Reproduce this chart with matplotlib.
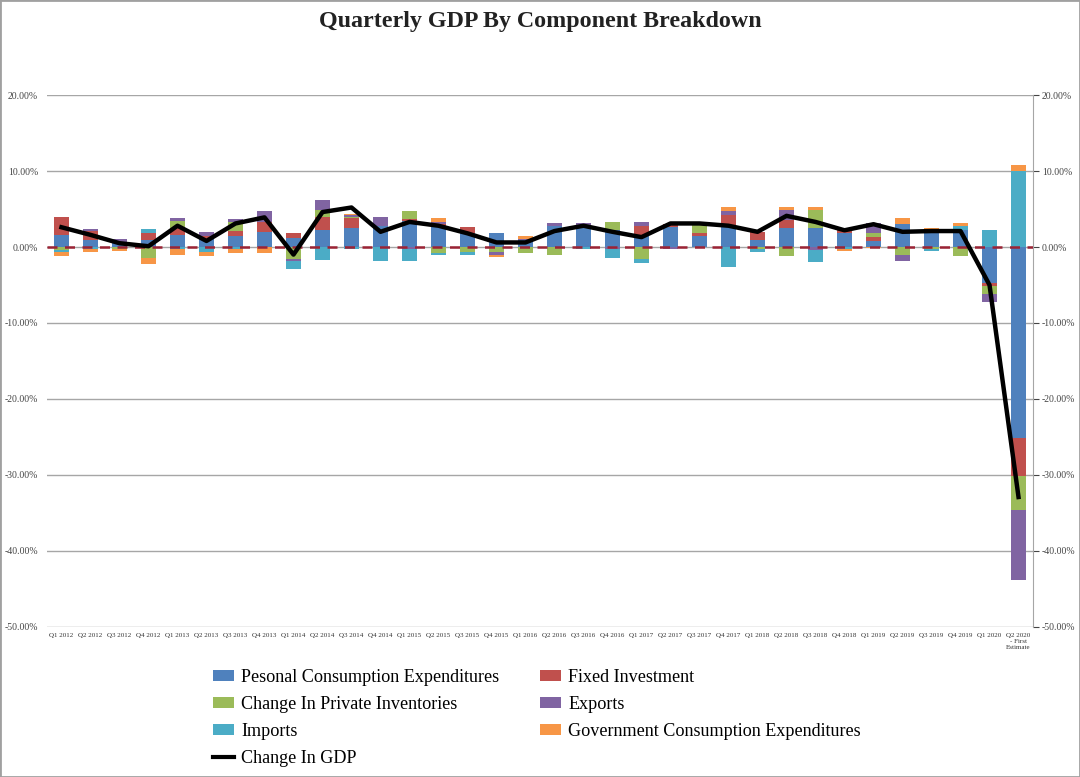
import numpy as np
import matplotlib
matplotlib.use("Agg")
import matplotlib.pyplot as plt
from matplotlib.patches import Patch, Rectangle
from matplotlib.lines import Line2D
from matplotlib.ticker import FuncFormatter

plt.rcParams["font.family"] = ["Liberation Serif", "DejaVu Serif"]

quarters = [
    "Q1 2012", "Q2 2012", "Q3 2012", "Q4 2012",
    "Q1 2013", "Q2 2013", "Q3 2013", "Q4 2013",
    "Q1 2014", "Q2 2014", "Q3 2014", "Q4 2014",
    "Q1 2015", "Q2 2015", "Q3 2015", "Q4 2015",
    "Q1 2016", "Q2 2016", "Q3 2016", "Q4 2016",
    "Q1 2017", "Q2 2017", "Q3 2017", "Q4 2017",
    "Q1 2018", "Q2 2018", "Q3 2018", "Q4 2018",
    "Q1 2019", "Q2 2019", "Q3 2019", "Q4 2019",
    "Q1 2020", "Q2 2020\n- First\nEstimate",
]

# contributions to GDP change, percentage points
pce = [1.6, 0.9, 0.7, 0.9, 1.6, 1.0, 1.4, 2.0, 1.2, 2.2, 2.5, 2.8,
       3.4, 2.6, 1.8, 1.8, 0.9, 2.7, 2.5, 2.2, 1.6, 2.6, 1.5, 2.9,
       0.9, 2.45, 2.45, 1.9, 0.8, 3.0, 2.2, 2.2, -4.8, -25.1]
fixed_inv = [2.3, 1.2, 0.0, 0.9, 0.9, 0.5, 0.7, 1.3, 0.7, 1.75, 1.3, 0.0,
             0.3, 0.4, 0.8, 0.0, 0.0, 0.0, 0.2, 0.0, 1.1, 0.4, 0.3, 1.3,
             1.1, 1.1, 0.0, 0.3, 0.5, 0.0, 0.0, 0.0, -0.3, -5.1]
inventories = [-0.4, 0.0, -0.2, -1.4, 0.9, 0.0, 1.2, 0.0, -1.6, 0.9, 0.2, 0.0,
               1.1, -0.8, -0.7, -0.7, -0.8, -1.0, 0.0, 1.1, -1.6, 0.0, 1.1, 0.0,
               -0.2, -1.2, 2.45, 0.0, 0.6, -1.0, -0.3, -1.2, -1.1, -4.4]
exports = [0.0, 0.3, 0.3, 0.0, 0.4, 0.5, 0.4, 1.4, -0.2, 1.3, 0.2, 1.2,
           -0.3, 0.3, 0.0, -0.4, 0.2, 0.4, 0.4, -0.2, 0.65, -0.2, 0.0, 0.6,
           0.0, 1.3, -0.4, 0.0, 1.2, -0.8, 0.0, 0.0, -1.0, -9.2]
imports = [-0.3, -0.3, 0.0, 0.6, -0.2, -0.7, -0.3, 0.0, -1.1, -1.7, -0.3, -1.9,
           -1.5, -0.3, -0.3, 0.0, 0.0, 0.0, -0.3, -1.3, -0.5, 0.0, 0.0, -2.6,
           -0.4, 0.0, -1.6, -0.3, 0.0, 0.0, -0.2, 0.5, 2.3, 10.05]
government = [-0.5, -0.4, -0.3, -0.9, -0.9, -0.5, -0.5, -0.8, 0.0, 0.0, 0.1, 0.0,
              0.0, 0.5, 0.0, -0.2, 0.3, 0.0, 0.0, 0.0, 0.0, 0.0, 0.0, 0.5,
              0.0, 0.35, 0.3, -0.2, -0.1, 0.8, 0.3, 0.45, 0.0, 0.75]
gdp_change = [2.6, 1.6, 0.5, 0.1, 2.8, 0.8, 3.1, 3.9, -1.0, 4.6, 5.2, 2.0,
              3.3, 2.8, 1.8, 0.6, 0.6, 2.1, 2.8, 2.0, 1.3, 3.1, 3.1, 2.8,
              2.0, 4.1, 3.3, 2.2, 3.0, 2.0, 2.1, 2.1, -5.0, -32.9]

series = [
    ("Pesonal Consumption Expenditures", pce, "#4F81BD"),
    ("Fixed Investment", fixed_inv, "#C0504D"),
    ("Change In Private Inventories", inventories, "#9BBB59"),
    ("Exports", exports, "#8064A2"),
    ("Imports", imports, "#4BACC6"),
    ("Government Consumption Expenditures", government, "#F79646"),
]

fig = plt.figure(figsize=(10.8, 7.77), dpi=100)
ax = fig.add_axes([0.0435, 0.1931, 0.9130, 0.6846])

x = np.arange(len(quarters))
pos_base = np.zeros(len(x))
neg_base = np.zeros(len(x))
for name, vals, color in series:
    v = np.array(vals)
    bottom = np.where(v >= 0, pos_base, neg_base)
    ax.bar(x, v, 0.54, bottom=bottom, color=color, zorder=2)
    pos_base += np.clip(v, 0, None)
    neg_base += np.clip(v, None, 0)

ax.axhline(0, color="#9B2335", lw=1.8, ls=(0, (4, 3)), zorder=3)
ax.plot(x, gdp_change, color="black", lw=3.2, zorder=4, solid_joinstyle="round")

ax.set_xlim(-0.5, len(x) - 0.5)
ax.set_ylim(-50, 20)
ax.set_yticks(np.arange(-50, 21, 10))
ax.yaxis.set_major_formatter(FuncFormatter(lambda y, _: "{:.2f}%".format(y)))
ax.grid(axis="y", color="#A6A6A6", lw=1, zorder=0)
ax.set_axisbelow(True)

ax.set_xticks(x)
ax.set_xticklabels(quarters, fontsize=5, color="#333333", linespacing=1.3)
ax.tick_params(axis="x", length=0, pad=4)
ax.tick_params(axis="y", labelsize=7, colors="#444444", left=False, right=True,
               labelright=True, length=4, pad=2.5)

for side in ["top", "left", "bottom"]:
    ax.spines[side].set_visible(False)
ax.spines["right"].set_color("#A6A6A6")

fig.text(0.5, 0.972, "Quarterly GDP By Component Breakdown", ha="center", va="center",
         fontsize=17.3, fontweight="bold", color="#222222")

handles = {name: Patch(facecolor=color) for name, _, color in series}
gdp_handle = Line2D([], [], color="black", lw=3)
order = [series[0][0], series[2][0], series[4][0], None,
         series[1][0], series[3][0], series[5][0]]
hs = [handles[n] if n else gdp_handle for n in order]
labels = [n if n else "Change In GDP" for n in order]
fig.legend(hs, labels, ncol=2, loc="upper left", bbox_to_anchor=(0.197, 0.139),
           frameon=False, fontsize=13.1, handlelength=1.15, handleheight=0.55,
           handletextpad=0.4, columnspacing=2.25, labelspacing=0.55,
           borderaxespad=0, borderpad=0)

fig.patches.append(Rectangle((0, 0), 1, 1, transform=fig.transFigure, fill=False,
                             edgecolor="#A0A0A0", lw=2))

fig.savefig("out.png", dpi=100)
